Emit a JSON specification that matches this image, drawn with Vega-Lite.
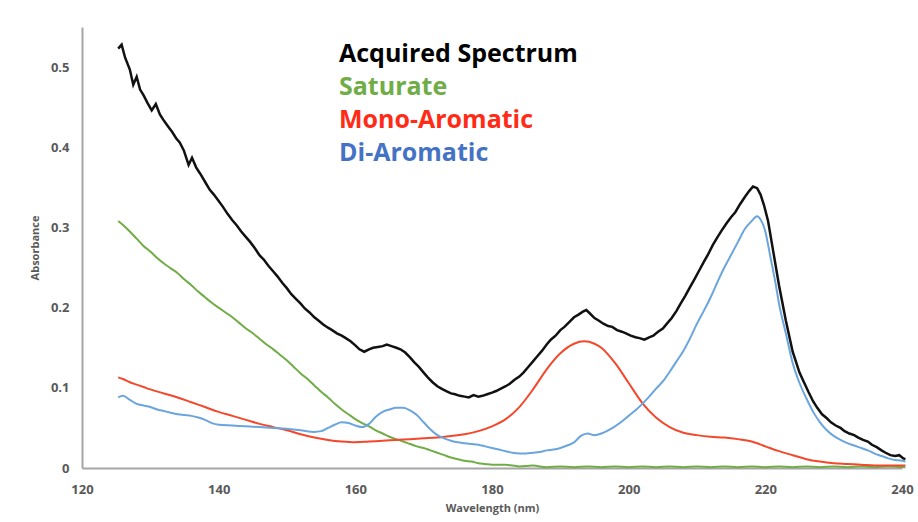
{
  "$schema": "https://vega.github.io/schema/vega-lite/v6.json",
  "width": 820,
  "height": 441,
  "autosize": "none",
  "padding": {"left": 82, "top": 27, "right": 16, "bottom": 54},
  "background": "white",
  "config": {"view": {"stroke": null}, "font": "Open Sans"},
  "encoding": {
    "x": {
      "field": "x", "type": "quantitative",
      "scale": {"domain": [120, 240], "nice": false, "zero": false},
      "axis": {
        "title": "Wavelength (nm)", "values": [120, 140, 160, 180, 200, 220, 240], "format": "d",
        "grid": false, "ticks": false, "domainColor": "#A6A6A6", "domainWidth": 2, "labelFlush": false,
        "labelFontSize": 13, "labelFontWeight": "bold", "labelColor": "#595959", "labelPadding": 15,
        "titleFontSize": 11, "titleFontWeight": "bold", "titleColor": "#595959", "titlePadding": 6
      }
    },
    "y": {
      "field": "y", "type": "quantitative",
      "scale": {"domain": [0, 0.55], "nice": false},
      "axis": {
        "title": "Absorbance", "values": [0, 0.1, 0.2, 0.3, 0.4, 0.5], "format": "~g",
        "grid": false, "ticks": false, "domainColor": "#A6A6A6", "domainWidth": 2, "labelFlush": false,
        "labelFontSize": 13, "labelFontWeight": "bold", "labelColor": "#595959", "labelPadding": 13,
        "titleFontSize": 11, "titleFontWeight": "bold", "titleColor": "#595959", "titlePadding": 10
      }
    }
  },
  "layer": [
    {
      "data": {"values": [
        {"x":125.3,"y":0.308},{"x":126,"y":0.303},{"x":127,"y":0.295},{"x":128,"y":0.286},{"x":129,"y":0.277},{"x":130,"y":0.270},
        {"x":131,"y":0.262},{"x":132,"y":0.255},{"x":133,"y":0.249},{"x":134,"y":0.243},{"x":135,"y":0.235},{"x":136,"y":0.228},
        {"x":137,"y":0.220},{"x":138,"y":0.213},{"x":139,"y":0.206},{"x":140,"y":0.200},{"x":141,"y":0.194},{"x":142,"y":0.188},
        {"x":143,"y":0.181},{"x":144,"y":0.174},{"x":145,"y":0.168},{"x":146,"y":0.161},{"x":147,"y":0.154},{"x":148,"y":0.148},
        {"x":149,"y":0.141},{"x":150,"y":0.134},{"x":151,"y":0.126},{"x":152,"y":0.118},{"x":153,"y":0.111},{"x":154,"y":0.103},
        {"x":155,"y":0.095},{"x":156,"y":0.088},{"x":157,"y":0.080},{"x":158,"y":0.073},{"x":159,"y":0.067},{"x":160,"y":0.061},
        {"x":161,"y":0.056},{"x":162,"y":0.052},{"x":163,"y":0.047},{"x":164,"y":0.043},{"x":165,"y":0.039},{"x":166,"y":0.036},
        {"x":167,"y":0.033},{"x":168,"y":0.030},{"x":169,"y":0.027},{"x":170,"y":0.025},{"x":171,"y":0.022},{"x":172,"y":0.019},
        {"x":173,"y":0.016},{"x":174,"y":0.013},{"x":175,"y":0.011},{"x":176,"y":0.009},{"x":177,"y":0.008},{"x":178,"y":0.006},
        {"x":179,"y":0.005},{"x":180,"y":0.004},{"x":182,"y":0.004},{"x":184,"y":0.002},{"x":186,"y":0.003},{"x":188,"y":0.001},
        {"x":190,"y":0.002},{"x":192,"y":0.001},{"x":194,"y":0.002},{"x":196,"y":0.001},{"x":198,"y":0.002},{"x":200,"y":0.001},
        {"x":202,"y":0.002},{"x":204,"y":0.001},{"x":206,"y":0.002},{"x":208,"y":0.001},{"x":210,"y":0.002},{"x":212,"y":0.001},
        {"x":214,"y":0.002},{"x":216,"y":0.001},{"x":218,"y":0.002},{"x":220,"y":0.001},{"x":222,"y":0.002},{"x":224,"y":0.001},
        {"x":226,"y":0.002},{"x":228,"y":0.001},{"x":230,"y":0.002},{"x":232,"y":0.001},{"x":234,"y":0.002},{"x":236,"y":0.001},
        {"x":238,"y":0.002},{"x":240.5,"y":0.001}
      ]},
      "mark": {"type": "line", "strokeWidth": 2, "interpolate": "monotone"},
      "encoding": {
        "color": {
          "datum": "Saturate", "type": "nominal",
          "scale": {
            "domain": ["Acquired Spectrum", "Saturate", "Mono-Aromatic", "Di-Aromatic"],
            "range": ["#111111", "#70AD47", "#F4472B", "#6AA5DE"]
          },
          "legend": {
            "orient": "none", "legendX": 232, "legendY": 14, "title": null,
            "symbolSize": 0, "symbolOpacity": 0, "symbolStrokeWidth": 0,
            "labelFont": "Open Sans", "labelFontWeight": "bold", "labelFontSize": 25,
            "labelOffset": 0, "rowPadding": 7, "padding": 0, "labelLimit": 400,
            "encode": {
              "labels": {
                "update": {
                  "fill": {"signal": "datum.value === 'Acquired Spectrum' ? '#000000' : datum.value === 'Saturate' ? '#70AD47' : datum.value === 'Mono-Aromatic' ? '#FF2B17' : '#4472C4'"}
                }
              }
            }
          }
        }
      }
    },
    {
      "data": {"values": [
        {"x":125.3,"y":0.113},{"x":126,"y":0.111},{"x":127,"y":0.107},{"x":128,"y":0.104},{"x":129,"y":0.101},{"x":130,"y":0.098},
        {"x":132,"y":0.093},{"x":134,"y":0.088},{"x":136,"y":0.082},{"x":138,"y":0.076},{"x":140,"y":0.070},{"x":142,"y":0.065},
        {"x":144,"y":0.060},{"x":146,"y":0.055},{"x":148,"y":0.051},{"x":150,"y":0.047},{"x":152,"y":0.042},{"x":154,"y":0.038},
        {"x":156,"y":0.035},{"x":158,"y":0.033},{"x":160,"y":0.032},{"x":162,"y":0.033},{"x":164,"y":0.034},{"x":166,"y":0.035},
        {"x":168,"y":0.036},{"x":170,"y":0.037},{"x":172,"y":0.038},{"x":174,"y":0.040},{"x":176,"y":0.042},{"x":178,"y":0.046},
        {"x":180,"y":0.052},{"x":182,"y":0.061},{"x":184,"y":0.076},{"x":186,"y":0.098},{"x":188,"y":0.123},{"x":190,"y":0.143},
        {"x":192,"y":0.155},{"x":193.5,"y":0.158},{"x":195,"y":0.155},{"x":196,"y":0.150},{"x":198,"y":0.131},{"x":200,"y":0.106},
        {"x":202,"y":0.081},{"x":204,"y":0.063},{"x":206,"y":0.051},{"x":208,"y":0.044},{"x":210,"y":0.041},{"x":212,"y":0.039},
        {"x":214,"y":0.038},{"x":216,"y":0.036},{"x":218,"y":0.033},{"x":220,"y":0.027},{"x":222,"y":0.021},{"x":224,"y":0.016},
        {"x":226,"y":0.011},{"x":228,"y":0.008},{"x":230,"y":0.006},{"x":232,"y":0.005},{"x":234,"y":0.004},{"x":236,"y":0.003},
        {"x":238,"y":0.003},{"x":240.5,"y":0.003}
      ]},
      "mark": {"type": "line", "strokeWidth": 2, "interpolate": "monotone"},
      "encoding": {"color": {"datum": "Mono-Aromatic", "type": "nominal"}}
    },
    {
      "data": {"values": [
        {"x":125.3,"y":0.088},{"x":126,"y":0.090},{"x":127,"y":0.085},{"x":128,"y":0.080},{"x":129,"y":0.078},{"x":130,"y":0.076},
        {"x":131,"y":0.073},{"x":132,"y":0.071},{"x":133,"y":0.069},{"x":134,"y":0.067},{"x":135,"y":0.066},{"x":136,"y":0.065},
        {"x":137,"y":0.063},{"x":138,"y":0.060},{"x":139,"y":0.056},{"x":140,"y":0.054},{"x":142,"y":0.053},{"x":144,"y":0.052},
        {"x":146,"y":0.051},{"x":148,"y":0.050},{"x":150,"y":0.049},{"x":152,"y":0.047},{"x":154,"y":0.045},{"x":155,"y":0.046},
        {"x":156,"y":0.050},{"x":157,"y":0.054},{"x":158,"y":0.057},{"x":159,"y":0.056},{"x":160,"y":0.053},{"x":161,"y":0.051},
        {"x":162,"y":0.055},{"x":163,"y":0.064},{"x":164,"y":0.070},{"x":165,"y":0.073},{"x":166,"y":0.075},{"x":167,"y":0.075},
        {"x":168,"y":0.072},{"x":169,"y":0.066},{"x":170,"y":0.057},{"x":171,"y":0.048},{"x":172,"y":0.041},{"x":173,"y":0.037},
        {"x":174,"y":0.034},{"x":175,"y":0.032},{"x":176,"y":0.031},{"x":177,"y":0.030},{"x":178,"y":0.029},{"x":179,"y":0.027},
        {"x":180,"y":0.025},{"x":181,"y":0.023},{"x":182,"y":0.021},{"x":183,"y":0.019},{"x":184,"y":0.018},{"x":185,"y":0.018},
        {"x":186,"y":0.019},{"x":187,"y":0.020},{"x":188,"y":0.022},{"x":189,"y":0.023},{"x":190,"y":0.025},{"x":191,"y":0.028},
        {"x":192,"y":0.032},{"x":193,"y":0.040},{"x":194,"y":0.043},{"x":195,"y":0.041},{"x":196,"y":0.043},{"x":197,"y":0.047},
        {"x":198,"y":0.052},{"x":199,"y":0.058},{"x":200,"y":0.065},{"x":201,"y":0.072},{"x":202,"y":0.080},{"x":203,"y":0.089},
        {"x":204,"y":0.099},{"x":205,"y":0.108},{"x":206,"y":0.120},{"x":207,"y":0.133},{"x":208,"y":0.146},{"x":209,"y":0.162},
        {"x":210,"y":0.180},{"x":211,"y":0.196},{"x":212,"y":0.213},{"x":213,"y":0.232},{"x":214,"y":0.250},{"x":215,"y":0.266},
        {"x":216,"y":0.282},{"x":217,"y":0.298},{"x":218,"y":0.308},{"x":218.8,"y":0.314},{"x":219.3,"y":0.310},{"x":220,"y":0.295},
        {"x":220.7,"y":0.265},{"x":221.5,"y":0.230},{"x":222,"y":0.205},{"x":223,"y":0.168},{"x":224,"y":0.131},{"x":225,"y":0.106},
        {"x":226,"y":0.087},{"x":227,"y":0.070},{"x":228,"y":0.057},{"x":229,"y":0.047},{"x":230,"y":0.040},{"x":231,"y":0.035},
        {"x":232,"y":0.031},{"x":233,"y":0.028},{"x":234,"y":0.025},{"x":235,"y":0.022},{"x":236,"y":0.018},{"x":237,"y":0.015},
        {"x":238,"y":0.012},{"x":239,"y":0.010},{"x":240,"y":0.009},{"x":240.5,"y":0.008}
      ]},
      "mark": {"type": "line", "strokeWidth": 2, "interpolate": "monotone"},
      "encoding": {"color": {"datum": "Di-Aromatic", "type": "nominal"}}
    },
    {
      "data": {"values": [
        {"x":125.3,"y":0.523},{"x":125.8,"y":0.528},{"x":126.3,"y":0.512},{"x":127,"y":0.497},{"x":127.5,"y":0.478},{"x":128,"y":0.488},
        {"x":128.5,"y":0.472},{"x":129,"y":0.465},{"x":129.6,"y":0.455},{"x":130.2,"y":0.446},{"x":130.8,"y":0.454},{"x":131.4,"y":0.441},
        {"x":132,"y":0.433},{"x":132.6,"y":0.426},{"x":133.2,"y":0.419},{"x":133.8,"y":0.411},{"x":134.3,"y":0.406},{"x":134.9,"y":0.396},
        {"x":135.6,"y":0.378},{"x":136.1,"y":0.387},{"x":136.7,"y":0.375},{"x":137.3,"y":0.367},{"x":138,"y":0.357},{"x":138.7,"y":0.347},
        {"x":139.3,"y":0.341},{"x":140,"y":0.333},{"x":140.6,"y":0.326},{"x":141.3,"y":0.317},{"x":142,"y":0.309},{"x":142.6,"y":0.303},
        {"x":143.3,"y":0.295},{"x":144,"y":0.288},{"x":144.6,"y":0.282},{"x":145.3,"y":0.274},{"x":146,"y":0.265},{"x":146.6,"y":0.260},
        {"x":147.3,"y":0.252},{"x":148,"y":0.245},{"x":148.6,"y":0.239},{"x":149.3,"y":0.231},{"x":150,"y":0.224},{"x":150.6,"y":0.217},
        {"x":151.3,"y":0.211},{"x":152,"y":0.205},{"x":152.6,"y":0.199},{"x":153.3,"y":0.194},{"x":154,"y":0.188},{"x":154.6,"y":0.184},
        {"x":155.3,"y":0.179},{"x":156,"y":0.175},{"x":156.6,"y":0.172},{"x":157.3,"y":0.168},{"x":158,"y":0.165},{"x":158.6,"y":0.162},
        {"x":159.3,"y":0.158},{"x":160,"y":0.153},{"x":160.6,"y":0.148},{"x":161.3,"y":0.145},{"x":162,"y":0.148},{"x":162.6,"y":0.150},
        {"x":163.3,"y":0.151},{"x":164,"y":0.152},{"x":164.6,"y":0.154},{"x":165.3,"y":0.152},{"x":166,"y":0.150},{"x":166.6,"y":0.148},
        {"x":167.3,"y":0.144},{"x":168,"y":0.138},{"x":168.6,"y":0.132},{"x":169.3,"y":0.126},{"x":170,"y":0.119},{"x":170.6,"y":0.113},
        {"x":171.3,"y":0.107},{"x":172,"y":0.102},{"x":172.6,"y":0.099},{"x":173.3,"y":0.096},{"x":174,"y":0.093},{"x":174.6,"y":0.092},
        {"x":175.3,"y":0.090},{"x":176,"y":0.089},{"x":176.6,"y":0.088},{"x":177.3,"y":0.091},{"x":178,"y":0.089},{"x":178.6,"y":0.090},
        {"x":179.3,"y":0.092},{"x":180,"y":0.094},{"x":180.6,"y":0.096},{"x":181.3,"y":0.099},{"x":182,"y":0.102},{"x":182.6,"y":0.105},
        {"x":183.3,"y":0.110},{"x":184,"y":0.114},{"x":184.6,"y":0.119},{"x":185.3,"y":0.126},{"x":186,"y":0.133},{"x":186.6,"y":0.139},
        {"x":187.3,"y":0.146},{"x":188,"y":0.154},{"x":188.6,"y":0.160},{"x":189.3,"y":0.165},{"x":190,"y":0.172},{"x":190.6,"y":0.176},
        {"x":191.3,"y":0.182},{"x":192,"y":0.188},{"x":192.6,"y":0.191},{"x":193.3,"y":0.195},{"x":193.8,"y":0.197},{"x":194.3,"y":0.193},
        {"x":195,"y":0.187},{"x":195.6,"y":0.184},{"x":196.3,"y":0.180},{"x":197,"y":0.177},{"x":197.6,"y":0.176},{"x":198.3,"y":0.172},
        {"x":199,"y":0.170},{"x":199.6,"y":0.168},{"x":200.3,"y":0.165},{"x":201,"y":0.163},{"x":201.6,"y":0.162},{"x":202.3,"y":0.160},
        {"x":203,"y":0.163},{"x":203.6,"y":0.165},{"x":204.3,"y":0.170},{"x":205,"y":0.174},{"x":205.6,"y":0.180},{"x":206.3,"y":0.187},
        {"x":207,"y":0.196},{"x":207.6,"y":0.205},{"x":208.3,"y":0.215},{"x":209,"y":0.226},{"x":209.6,"y":0.235},{"x":210.3,"y":0.246},
        {"x":211,"y":0.257},{"x":211.6,"y":0.266},{"x":212.3,"y":0.278},{"x":213,"y":0.288},{"x":213.6,"y":0.296},{"x":214.3,"y":0.305},
        {"x":215,"y":0.313},{"x":215.6,"y":0.319},{"x":216.3,"y":0.329},{"x":217,"y":0.338},{"x":217.6,"y":0.345},{"x":218.2,"y":0.351},
        {"x":218.8,"y":0.349},{"x":219.3,"y":0.341},{"x":219.8,"y":0.328},{"x":220.4,"y":0.308},{"x":221.2,"y":0.268},{"x":222,"y":0.228},
        {"x":223,"y":0.184},{"x":224,"y":0.145},{"x":225,"y":0.119},{"x":225.6,"y":0.108},{"x":226.3,"y":0.095},{"x":227,"y":0.083},
        {"x":227.6,"y":0.075},{"x":228.3,"y":0.067},{"x":229,"y":0.062},{"x":229.6,"y":0.057},{"x":230.3,"y":0.053},{"x":231,"y":0.050},
        {"x":231.6,"y":0.046},{"x":232.3,"y":0.043},{"x":233,"y":0.041},{"x":233.6,"y":0.038},{"x":234.3,"y":0.035},{"x":235,"y":0.033},
        {"x":235.6,"y":0.029},{"x":236.3,"y":0.026},{"x":237,"y":0.022},{"x":237.6,"y":0.019},{"x":238.3,"y":0.016},{"x":239,"y":0.015},
        {"x":239.6,"y":0.016},{"x":240.2,"y":0.012},{"x":240.5,"y":0.011}
      ]},
      "mark": {"type": "line", "strokeWidth": 2.5},
      "encoding": {"color": {"datum": "Acquired Spectrum", "type": "nominal"}}
    }
  ]
}
